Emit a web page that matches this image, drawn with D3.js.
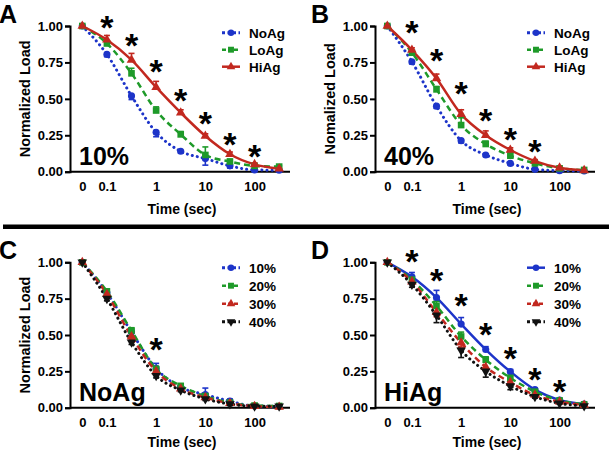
<!DOCTYPE html>
<html><head><meta charset="utf-8">
<script src="https://cdn.jsdelivr.net/npm/d3@7"></script>
<style>
html,body{margin:0;padding:0;background:#fff;}
svg text{font-family:"Liberation Sans",Arial,sans-serif;font-weight:bold;}
</style></head>
<body><svg id="c" width="612" height="455"></svg>
<script>
// ---- data ----
const times = [0, 0.1, 0.316, 1, 3.16, 10, 31.6, 100, 316];
const xTickValues = [0, 0.1, 1, 10, 100];
const xTickLabels = ["0", "0.1", "1", "10", "100"];
const yTickValues = [0, 0.25, 0.5, 0.75, 1];

// Panel A (10%)
const aNoAg    = [1, 0.805, 0.52, 0.27, 0.14, 0.09, 0.04, 0.012, 0.01];
const aNoAgErr = [0, 0.015, 0.025, 0.03, 0.01, 0.045, 0.015, 0.01, 0.005];
const aLoAg    = [1, 0.88, 0.675, 0.42, 0.256, 0.115, 0.07, 0.04, 0.035];
const aLoAgErr = [0, 0.015, 0.035, 0.025, 0.02, 0.055, 0.015, 0.01, 0.005];
const aHiAg    = [1, 0.905, 0.767, 0.58, 0.405, 0.245, 0.12, 0.05, 0.02];
const aHiAgErr = [0, 0.03, 0.045, 0.04, 0.02, 0.015, 0.015, 0.01, 0.005];
const aStarT = [0.1, 0.316, 1, 3.16, 10, 31.6, 100];
const aStarY = [1.04, 0.915, 0.74, 0.54, 0.38, 0.24, 0.153];

// Panel B (40%)
const bNoAg    = [1, 0.755, 0.45, 0.213, 0.115, 0.057, 0.016, 0.007, 0.005];
const bNoAgErr = [0, 0.015, 0.015, 0.015, 0.01, 0.01, 0.01, 0.005, 0];
const bLoAg    = [1, 0.817, 0.565, 0.32, 0.19, 0.11, 0.057, 0.023, 0.012];
const bLoAgErr = [0, 0.015, 0.02, 0.05, 0.02, 0.02, 0.01, 0.005, 0];
const bHiAg    = [1, 0.835, 0.64, 0.395, 0.25, 0.149, 0.073, 0.027, 0.009];
const bHiAgErr = [0, 0.015, 0.03, 0.03, 0.03, 0.015, 0.01, 0.005, 0];
const bStarT = [0.1, 0.316, 1, 3.16, 10, 31.6];
const bStarY = [1.007, 0.817, 0.588, 0.40, 0.275, 0.19];

// Panel C (NoAg)
const c10 = [1, 0.79, 0.52, 0.27, 0.14, 0.09, 0.045, 0.012, 0.01];
const c10Err = [0, 0.02, 0.02, 0.035, 0.015, 0.045, 0.015, 0.01, 0.005];
const c20 = [1, 0.80, 0.53, 0.265, 0.15, 0.08, 0.035, 0.015, 0.012];
const c20Err = [0, 0.015, 0.02, 0.02, 0.015, 0.015, 0.01, 0.005, 0.005];
const c30 = [1, 0.78, 0.49, 0.25, 0.13, 0.07, 0.03, 0.01, 0.005];
const c30Err = [0, 0.015, 0.02, 0.02, 0.01, 0.01, 0.01, 0.005, 0];
const c40 = [1, 0.75, 0.45, 0.22, 0.12, 0.06, 0.025, 0.01, 0.01];
const c40Err = [0, 0.015, 0.015, 0.015, 0.01, 0.01, 0.01, 0.005, 0];
const cStarT = [1];
const cStarY = [0.454];

// Panel D (HiAg)
const d10 = [1, 0.9, 0.757, 0.575, 0.40, 0.248, 0.124, 0.053, 0.025];
const d10Err = [0, 0.03, 0.05, 0.045, 0.02, 0.015, 0.01, 0.005, 0];
const d20 = [1, 0.88, 0.70, 0.49, 0.33, 0.205, 0.11, 0.05, 0.023];
const d20Err = [0, 0.015, 0.03, 0.03, 0.02, 0.015, 0.01, 0.005, 0];
const d30 = [1, 0.867, 0.656, 0.447, 0.28, 0.174, 0.087, 0.041, 0.018];
const d30Err = [0, 0.015, 0.03, 0.03, 0.02, 0.015, 0.01, 0.005, 0];
const d40 = [1, 0.848, 0.635, 0.395, 0.25, 0.149, 0.075, 0.03, 0.012];
const d40Err = [0, 0.02, 0.05, 0.05, 0.04, 0.025, 0.01, 0.005, 0];
const dStarT = [0.1, 0.316, 1, 3.16, 10, 31.6, 100];
const dStarY = [1.055, 0.924, 0.757, 0.557, 0.39, 0.248, 0.16];

// ---- styles ----
const BLUE = "#1d34c9", GREEN = "#1e9a29", RED = "#c2281f", BLACK = "#111";
const DOT = "0.1,5", DASH = "6,4", SOLID = null;

const svg = d3.select("#c");

function panel(cfg){
  const g = svg.append("g");
  const x = d3.scaleLog().domain([Math.pow(10,-1.75), Math.pow(10,2.72)]).range([cfg.left, cfg.left+220]);
  const xp = t => x(t === 0 ? 0.0316 : t);
  const y = d3.scaleLinear().domain([0,1]).range([cfg.bottom, cfg.top]);

  // y axis
  const ya = g.append("g").attr("transform",`translate(${cfg.left},0)`)
    .call(d3.axisLeft(y).tickValues(yTickValues).tickFormat(d3.format(".2f")).tickSize(5).tickPadding(2));
  ya.select(".domain").attr("stroke","#000").attr("stroke-width",2);
  ya.selectAll(".tick line").attr("stroke","#000").attr("stroke-width",2);
  ya.selectAll(".tick text").attr("font-size",13).attr("fill","#000").attr("font-family","Liberation Sans, Arial").attr("font-weight","bold");

  // x axis
  const xa = g.append("g").attr("transform",`translate(0,${cfg.bottom})`)
    .call(d3.axisBottom(x).tickValues(xTickValues.map(v=>v===0?0.0316:v))
      .tickFormat((d,i)=>xTickLabels[i]).tickSize(0).tickPadding(10));
  xa.select(".domain").attr("stroke","#000").attr("stroke-width",2).attr("d",`M${cfg.left},0H${cfg.left+220}`);
  xa.selectAll(".tick text").attr("font-size",13).attr("fill","#000").attr("font-family","Liberation Sans, Arial").attr("font-weight","bold");

  // x title
  g.append("text").attr("x",cfg.left+112).attr("y",cfg.titleY).attr("text-anchor","middle")
    .attr("font-size",14).text("Time (sec)");
  // y title
  if (cfg.ylabel) {
    g.append("text").attr("transform",`translate(${cfg.left-40},${(cfg.top+cfg.bottom)/2}) rotate(-90)`)
      .attr("text-anchor","middle").attr("font-size",14.5).text(cfg.ylabel);
  }

  // series
  const line = d3.line().x((d,i)=>xp(times[i])).y(d=>y(d)).curve(d3.curveMonotoneX);
  cfg.series.forEach(s=>{
    g.append("path").attr("d",line(s.values)).attr("fill","none").attr("stroke",s.color)
      .attr("stroke-width", s.dash===DOT?3:2.5).attr("stroke-dasharray",s.dash)
      .attr("stroke-linecap", s.dash===DOT?"round":"butt");
  });
  cfg.series.forEach(s=>{
    // error bars
    s.values.forEach((v,i)=>{
      const e = s.err[i]; if(!e) return;
      const cx = xp(times[i]);
      const ends = s.dir==="down" ? [v-e] : (s.dir==="both" ? [v-e,v+e] : [v+e]);
      ends.forEach(ev=>{
        g.append("line").attr("x1",cx).attr("x2",cx).attr("y1",y(v)).attr("y2",y(ev)).attr("stroke",s.color).attr("stroke-width",1.6);
        g.append("line").attr("x1",cx-3).attr("x2",cx+3).attr("y1",y(ev)).attr("y2",y(ev)).attr("stroke",s.color).attr("stroke-width",1.6);
      });
    });
    // markers
    g.selectAll(null).data(s.values).enter().append("path")
      .attr("d", d3.symbol().type(s.sym).size(s.size))
      .attr("transform",(d,i)=>`translate(${xp(times[i])},${y(d)})${s.rot?" rotate(180)":""}`)
      .attr("fill",s.color);
  });

  // stars
  cfg.starT.forEach((t,i)=>{
    g.append("text").attr("x",xp(t)).attr("y",y(cfg.starY[i])+19).attr("text-anchor","middle")
      .attr("font-size",34).text("*");
  });

  // legend
  cfg.series.forEach((s,i)=>{
    const ly = cfg.top + cfg.legY0 + i*cfg.legDy;
    const lx = cfg.left + 152;
    g.append("line").attr("x1",lx).attr("x2",lx+18).attr("y1",ly).attr("y2",ly).attr("stroke",s.color)
      .attr("stroke-width", s.dash===DOT?3:2.5).attr("stroke-dasharray", s.dash===DOT?"3,2.5":(s.dash===DASH?"4,2":null));
    g.append("path").attr("d",d3.symbol().type(s.sym).size(s.size*0.8))
      .attr("transform",`translate(${lx+9},${ly})${s.rot?" rotate(180)":""}`).attr("fill",s.color);
    g.append("text").attr("x",lx+27).attr("y",ly+5).attr("font-size",13.5).text(s.name);
  });

  // inset big label
  g.append("text").attr("x",cfg.left+9).attr("y",cfg.bottom-7).attr("font-size",25)
    .attr("font-family","Open Sans, sans-serif").attr("font-weight","bold").text(cfg.inset);
  // panel letter
  g.append("text").attr("x",cfg.letterX).attr("y",cfg.top-3).attr("font-size",25)
    .attr("font-family","Open Sans, sans-serif").attr("font-weight","bold").text(cfg.letter);
}

panel({left:70, top:26, bottom:171.7, titleY:214, ylabel:"Normalized Load", inset:"10%", letter:"A", letterX:-1,
  legY0:6.7, legDy:17, starT:aStarT, starY:aStarY,
  series:[
    {name:"NoAg", values:aNoAg, err:aNoAgErr, dir:"down", color:BLUE, dash:DOT, sym:d3.symbolCircle, size:40},
    {name:"LoAg", values:aLoAg, err:aLoAgErr, dir:"up", color:GREEN, dash:DASH, sym:d3.symbolSquare, size:44},
    {name:"HiAg", values:aHiAg, err:aHiAgErr, dir:"up", color:RED, dash:SOLID, sym:d3.symbolTriangle, size:40}
  ]});
panel({left:375, top:26, bottom:171.7, titleY:214, ylabel:"Nomalized Load", inset:"40%", letter:"B", letterX:311,
  legY0:6.7, legDy:17, starT:bStarT, starY:bStarY,
  series:[
    {name:"NoAg", values:bNoAg, err:bNoAgErr, dir:"down", color:BLUE, dash:DOT, sym:d3.symbolCircle, size:40},
    {name:"LoAg", values:bLoAg, err:bLoAgErr, dir:"up", color:GREEN, dash:DASH, sym:d3.symbolSquare, size:44},
    {name:"HiAg", values:bHiAg, err:bHiAgErr, dir:"up", color:RED, dash:SOLID, sym:d3.symbolTriangle, size:40}
  ]});
panel({left:70, top:262.3, bottom:407.7, titleY:447, ylabel:"Normalized Load", inset:"NoAg", letter:"C", letterX:-1,
  legY0:5.4, legDy:18, starT:cStarT, starY:cStarY,
  series:[
    {name:"10%", values:c10, err:c10Err, dir:"up", color:BLUE, dash:DOT, sym:d3.symbolCircle, size:40},
    {name:"20%", values:c20, err:c20Err, dir:"up", color:GREEN, dash:DASH, sym:d3.symbolSquare, size:44},
    {name:"30%", values:c30, err:c30Err, dir:"down", color:RED, dash:DASH, sym:d3.symbolTriangle, size:40},
    {name:"40%", values:c40, err:c40Err, dir:"down", color:BLACK, dash:DOT, sym:d3.symbolTriangle, size:40, rot:true}
  ]});
panel({left:375, top:262.3, bottom:407.7, titleY:447, ylabel:null, inset:"HiAg", letter:"D", letterX:311,
  legY0:5.4, legDy:18, starT:dStarT, starY:dStarY,
  series:[
    {name:"10%", values:d10, err:d10Err, dir:"up", color:BLUE, dash:SOLID, sym:d3.symbolCircle, size:40},
    {name:"20%", values:d20, err:d20Err, dir:"up", color:GREEN, dash:DASH, sym:d3.symbolSquare, size:44},
    {name:"30%", values:d30, err:d30Err, dir:"down", color:RED, dash:DASH, sym:d3.symbolTriangle, size:40},
    {name:"40%", values:d40, err:d40Err, dir:"down", color:BLACK, dash:DOT, sym:d3.symbolTriangle, size:40, rot:true}
  ]});

// separator
svg.append("line").attr("x1",3).attr("x2",609).attr("y1",226.7).attr("y2",226.7).attr("stroke","#000").attr("stroke-width",4.5);
</script></body></html>
